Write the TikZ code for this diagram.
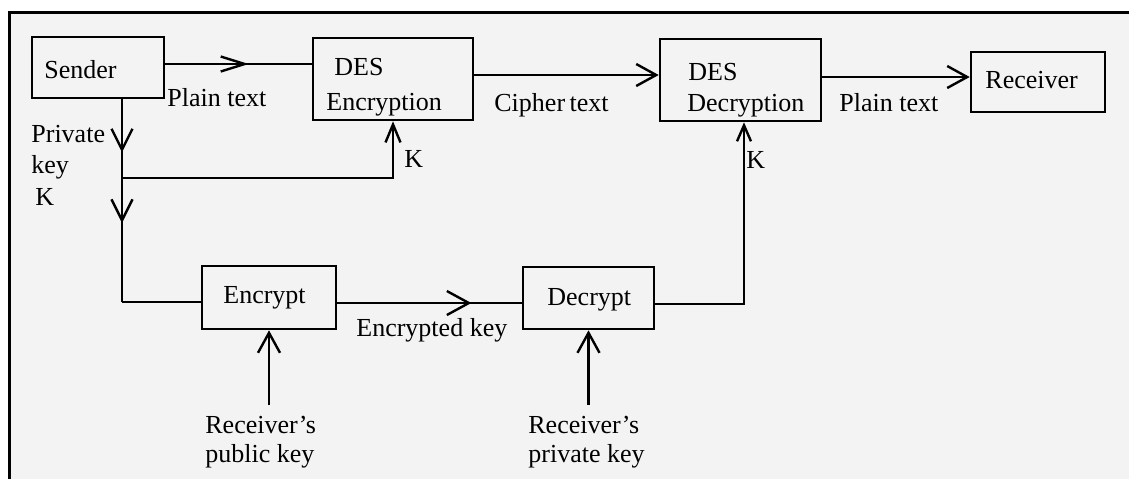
\documentclass[tikz,border=0pt]{standalone}
\usepackage{fontspec}
\setmainfont{Liberation Serif}
\usetikzlibrary{arrows.meta,decorations.markings}
\definecolor{bg}{HTML}{F3F3F3}
\begin{document}
\begin{tikzpicture}[x=0.5pt,y=-0.5pt,
  box/.style={draw, line width=1.3pt, inner sep=0pt, rectangle},
  txt/.style={inner sep=0pt, anchor=base west, font=\fontsize{13}{15}\selectfont},
  conn/.style={line width=1.2pt},
  arr/.style={conn, -{Straight Barb[length=10pt,width=11pt]}},
  arrsmall/.style={conn, -{Straight Barb[length=8pt,width=7pt]}},
  arrmid/.style={conn, -{Straight Barb[length=9pt,width=7.5pt]}},
  midarr/.style={postaction={decorate},decoration={markings,
     mark=at position #1 with {\arrow{Straight Barb[length=10.5pt,width=10.5pt]}}}},
  midarrlong/.style={postaction={decorate},decoration={markings,
     mark=at position #1 with {\arrow{Straight Barb[length=12pt,width=7.5pt]}}}},
  midarrwide/.style={postaction={decorate},decoration={markings,
     mark=at position #1 with {\arrow{Straight Barb[length=11pt,width=12pt]}}}}
]
\useasboundingbox (0,0) rectangle (1129,479);
\fill[bg] (9,12) rectangle (1129,479);
\draw[line width=1.5pt] (9,479) -- (9,12) -- (1129,12);

% boxes
\node[box, minimum width=66pt, minimum height=30.5pt] (sender) at (98,67.5) {};
\node[box, minimum width=80pt, minimum height=41pt] (desenc) at (393,79) {};
\node[box, minimum width=80.5pt, minimum height=41pt] (desdec) at (740.5,80) {};
\node[box, minimum width=67pt, minimum height=30pt] (receiver) at (1038,82) {};
\node[box, minimum width=67pt, minimum height=31.5pt] (encrypt) at (269,297.5) {};
\node[box, minimum width=65.5pt, minimum height=31pt] (decrypt) at (588.5,298) {};

% box texts
\node[txt] (tsender) at (44,78) {Sender};
\node[txt] (tdes1) at (334,75) {DES};
\node[txt] (tenc) at (326,110) {Encryption};
\node[txt] (tdes2) at (688,80) {DES};
\node[txt] (tdec) at (687,111) {Decryption};
\node[txt] (trecv) at (985,88) {Receiver};
\node[txt] (tencrypt) at (223,303) {Encrypt};
\node[txt] (tdecrypt) at (547,305) {Decrypt};

% labels
\node[txt] (lplain1) at (167,106) {Plain text};
\node[txt] (lpriv) at (31,142) {Private};
\node[txt] (lkey) at (31,173) {key};
\node[txt] (lK) at (35,205) {K};
\node[txt] (lK1) at (404,167) {K};
\node[txt] (lcipher) at (494,111) {Cipher\hspace{-1pt} text};
\node[txt] (lplain2) at (839,111) {Plain text};
\node[txt] (lK2) at (746,168) {K};
\node[txt] (lenckey) at (356,336) {Encrypted key};
\node[txt] (lpub1) at (205,433) {Receiver’s};
\node[txt] (lpub2) at (205,462) {public key};
\node[txt] (lprv1) at (528,433) {Receiver’s};
\node[txt] (lprv2) at (528,462) {private key};

% helper coordinates
\coordinate (yS) at (0,64);
\coordinate (yC) at (0,75);
\coordinate (yP) at (0,77);
\coordinate (junc) at (122,178);
\coordinate (jE) at (122,302);
\coordinate (yK) at (0,303);
\coordinate (kd) at (744,304);
\coordinate (pubsrc) at (269,405);
\coordinate (prvsrc) at (588.5,405);

% connectors
\draw[conn, midarrlong=0.57] (sender.east |- yS) -- (desenc.west |- yS);
\draw[arr] (desenc.east |- yC) -- (desdec.west |- yC);
\draw[arr] (desdec.east |- yP) -- (receiver.west |- yP);
\draw[conn, midarr=0.675] (sender.south -| junc) -- (junc);
\draw[conn, midarr=0.363] (junc) -- (jE);
\draw[conn] (jE) -- (encrypt.west |- jE);
\draw[arrmid] (junc) -| (desenc.south);
\draw[conn, midarrwide=0.727] (encrypt.east |- yK) -- (decrypt.west |- yK);
\draw[arrsmall] (decrypt.east |- kd) -- (kd) -- (kd |- desdec.south);
\draw[arr] (pubsrc) -- (encrypt.south);
\draw[arr] (prvsrc) -- (decrypt.south);
\end{tikzpicture}
\end{document}
